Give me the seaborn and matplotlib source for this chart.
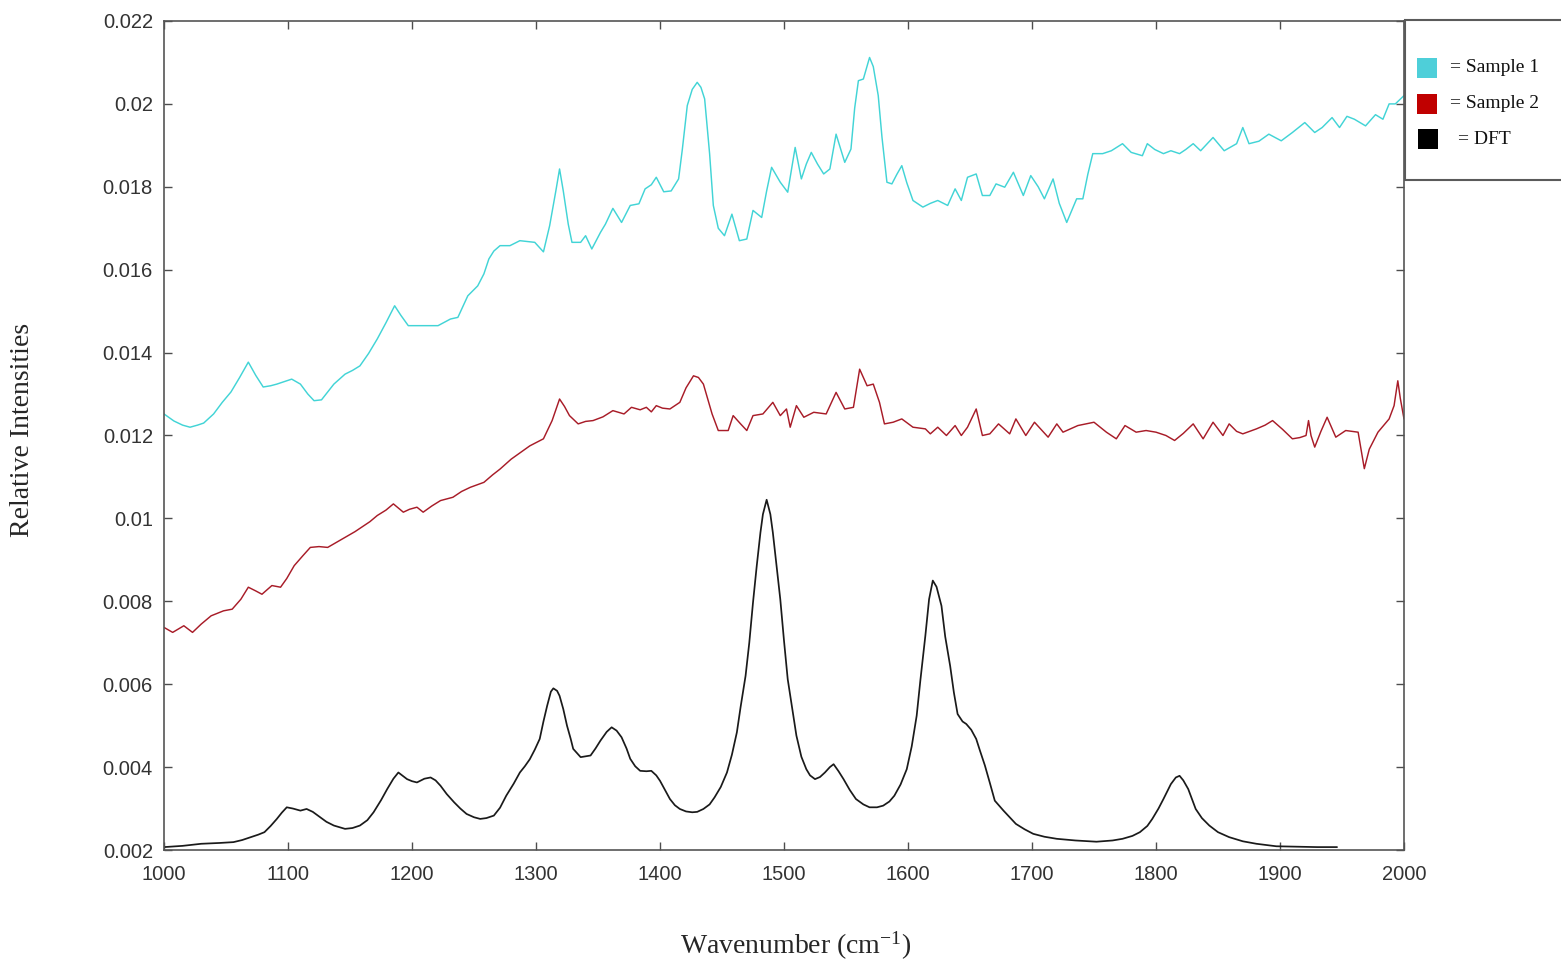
import numpy as np
import pandas as pd
import seaborn as sns
from matplotlib import pyplot as plt
from matplotlib.patches import Rectangle
from matplotlib.ticker import MultipleLocator, FuncFormatter

# series names, colours and legend text
series_names = ["Sample 1", "Sample 2", "DFT"]
series_colors = ["#42d4d6", "#a81c28", "#1a1a1a"]
series_widths = [1.05, 1.05, 1.25]
legend_labels = ["= Sample 1", "= Sample 2", "= DFT"]
legend_colors = ["#4ecfd9", "#c00000", "#000000"]

# (wavenumber in cm-1, relative intensity x 1e-3)
sample1 = [
    (1000, 12.52), (1008, 12.35), (1015, 12.25), (1021, 12.20), (1027, 12.25),
    (1032, 12.30), (1040, 12.52), (1047, 12.80), (1054, 13.05), (1061, 13.40),
    (1068, 13.77), (1074, 13.45), (1080, 13.17), (1086, 13.20), (1091, 13.24),
    (1097, 13.30), (1103, 13.36), (1110, 13.24), (1116, 13.00), (1121, 12.84),
    (1127, 12.86), (1132, 13.05), (1137, 13.24), (1146, 13.48), (1152, 13.57),
    (1158, 13.68), (1165, 13.98), (1172, 14.33), (1179, 14.72), (1186, 15.13),
    (1191, 14.90), (1197, 14.65), (1205, 14.65), (1213, 14.65), (1221, 14.65),
    (1231, 14.81), (1237, 14.85), (1245, 15.37), (1253, 15.61), (1258, 15.90),
    (1262, 16.26), (1266, 16.45), (1271, 16.58), (1279, 16.58), (1287, 16.70),
    (1293, 16.68), (1299, 16.66), (1306, 16.43), (1311, 17.06), (1316, 17.90),
    (1319, 18.43), (1322, 17.90), (1326, 17.10), (1329, 16.66), (1336, 16.66),
    (1340, 16.82), (1345, 16.50), (1352, 16.90), (1356, 17.10), (1362, 17.48),
    (1369, 17.14), (1376, 17.55), (1383, 17.59), (1388, 17.95), (1393, 18.05),
    (1397, 18.23), (1403, 17.88), (1409, 17.90), (1415, 18.19), (1418, 18.90),
    (1422, 19.96), (1426, 20.35), (1430, 20.52), (1433, 20.40), (1436, 20.12),
    (1440, 18.80), (1443, 17.55), (1447, 17.00), (1452, 16.82), (1458, 17.34),
    (1464, 16.70), (1470, 16.74), (1475, 17.43), (1482, 17.26), (1486, 17.90),
    (1490, 18.47), (1497, 18.11), (1503, 17.87), (1509, 18.95), (1514, 18.19),
    (1518, 18.55), (1522, 18.83), (1527, 18.55), (1532, 18.31), (1537, 18.43),
    (1542, 19.27), (1549, 18.59), (1554, 18.91), (1557, 19.90), (1560, 20.56),
    (1564, 20.60), (1569, 21.12), (1572, 20.90), (1576, 20.20), (1579, 19.20),
    (1583, 18.11), (1587, 18.07), (1591, 18.30), (1595, 18.51), (1599, 18.10),
    (1604, 17.67), (1612, 17.51), (1618, 17.60), (1624, 17.67), (1632, 17.55),
    (1638, 17.95), (1643, 17.67), (1648, 18.23), (1655, 18.31), (1660, 17.79),
    (1666, 17.79), (1671, 18.07), (1678, 17.99), (1685, 18.35), (1693, 17.79),
    (1699, 18.27), (1705, 18.00), (1710, 17.71), (1717, 18.19), (1722, 17.60),
    (1728, 17.14), (1736, 17.71), (1741, 17.71), (1745, 18.30), (1749, 18.80),
    (1757, 18.80), (1764, 18.87), (1773, 19.04), (1780, 18.83), (1789, 18.75),
    (1793, 19.04), (1799, 18.90), (1806, 18.80), (1812, 18.87), (1819, 18.80),
    (1824, 18.90), (1830, 19.04), (1836, 18.87), (1846, 19.19), (1855, 18.87),
    (1865, 19.04), (1870, 19.43), (1875, 19.04), (1883, 19.10), (1891, 19.27),
    (1901, 19.11), (1910, 19.31), (1920, 19.55), (1928, 19.31), (1934, 19.43),
    (1942, 19.67), (1948, 19.43), (1954, 19.70), (1960, 19.63), (1969, 19.47),
    (1977, 19.74), (1983, 19.63), (1988, 20.00), (1993, 20.00), (2000, 20.20),
]

sample2 = [
    (1000, 7.37), (1007, 7.25), (1016, 7.41), (1023, 7.25), (1030, 7.45),
    (1038, 7.65), (1048, 7.77), (1055, 7.81), (1062, 8.05), (1068, 8.34),
    (1074, 8.25), (1079, 8.17), (1087, 8.38), (1094, 8.34), (1099, 8.55),
    (1105, 8.86), (1112, 9.10), (1118, 9.30), (1125, 9.32), (1132, 9.30),
    (1139, 9.42), (1146, 9.54), (1154, 9.68), (1161, 9.82), (1166, 9.92),
    (1172, 10.07), (1179, 10.20), (1185, 10.35), (1193, 10.15), (1198, 10.22),
    (1204, 10.27), (1209, 10.15), (1216, 10.30), (1223, 10.43), (1233, 10.51),
    (1240, 10.65), (1247, 10.75), (1258, 10.87), (1265, 11.05), (1271, 11.19),
    (1280, 11.43), (1288, 11.60), (1295, 11.75), (1306, 11.92), (1313, 12.36),
    (1319, 12.88), (1323, 12.70), (1327, 12.48), (1334, 12.28), (1340, 12.34),
    (1346, 12.36), (1354, 12.45), (1362, 12.60), (1371, 12.52), (1377, 12.68),
    (1384, 12.62), (1389, 12.68), (1393, 12.57), (1397, 12.72), (1402, 12.66),
    (1408, 12.64), (1416, 12.80), (1421, 13.15), (1427, 13.44), (1431, 13.40),
    (1435, 13.24), (1442, 12.52), (1447, 12.12), (1455, 12.12), (1459, 12.48),
    (1465, 12.28), (1470, 12.12), (1475, 12.48), (1483, 12.52), (1491, 12.80),
    (1497, 12.48), (1502, 12.64), (1505, 12.20), (1510, 12.72), (1516, 12.44),
    (1524, 12.56), (1534, 12.52), (1542, 13.04), (1549, 12.64), (1556, 12.68),
    (1561, 13.60), (1567, 13.20), (1572, 13.24), (1577, 12.80), (1581, 12.28),
    (1588, 12.32), (1595, 12.40), (1604, 12.20), (1614, 12.16), (1618, 12.04),
    (1624, 12.20), (1631, 12.00), (1638, 12.24), (1643, 12.00), (1648, 12.20),
    (1655, 12.64), (1660, 12.00), (1666, 12.04), (1673, 12.28), (1682, 12.04),
    (1687, 12.40), (1695, 12.00), (1702, 12.32), (1713, 11.96), (1720, 12.28),
    (1725, 12.08), (1737, 12.24), (1750, 12.32), (1760, 12.08), (1768, 11.92),
    (1775, 12.24), (1784, 12.08), (1792, 12.12), (1800, 12.08), (1808, 12.00),
    (1815, 11.88), (1822, 12.05), (1830, 12.28), (1838, 11.92), (1846, 12.32),
    (1854, 12.00), (1859, 12.28), (1865, 12.10), (1870, 12.04), (1881, 12.16),
    (1888, 12.25), (1894, 12.36), (1902, 12.15), (1910, 11.92), (1916, 11.95),
    (1921, 12.00), (1923, 12.36), (1925, 12.00), (1928, 11.72), (1933, 12.10),
    (1938, 12.44), (1945, 11.96), (1953, 12.12), (1963, 12.08), (1968, 11.20),
    (1972, 11.67), (1979, 12.08), (1988, 12.40), (1992, 12.72), (1995, 13.32),
    (1997, 12.90), (2000, 12.40),
]

dft = [
    (1000, 2.07), (1015, 2.10), (1030, 2.15), (1045, 2.17), (1056, 2.19),
    (1063, 2.24), (1070, 2.31), (1076, 2.37), (1081, 2.43), (1086, 2.58),
    (1091, 2.75), (1095, 2.90), (1099, 3.03), (1104, 3.00), (1110, 2.95),
    (1115, 2.99), (1120, 2.92), (1126, 2.79), (1131, 2.68), (1137, 2.59),
    (1146, 2.51), (1152, 2.53), (1158, 2.59), (1164, 2.72), (1169, 2.91),
    (1175, 3.20), (1180, 3.47), (1185, 3.72), (1189, 3.87), (1192, 3.80),
    (1196, 3.71), (1200, 3.66), (1204, 3.63), (1210, 3.72), (1215, 3.75),
    (1219, 3.68), (1223, 3.55), (1228, 3.35), (1234, 3.15), (1239, 3.00),
    (1244, 2.87), (1250, 2.79), (1255, 2.75), (1260, 2.77), (1266, 2.83),
    (1271, 3.02), (1276, 3.31), (1282, 3.60), (1287, 3.87), (1291, 4.02),
    (1295, 4.19), (1299, 4.42), (1303, 4.68), (1306, 5.10), (1309, 5.48),
    (1312, 5.82), (1314, 5.90), (1317, 5.84), (1319, 5.72), (1322, 5.40),
    (1325, 5.00), (1328, 4.68), (1330, 4.44), (1336, 4.24), (1344, 4.28),
    (1348, 4.45), (1352, 4.64), (1357, 4.85), (1361, 4.96), (1365, 4.88),
    (1369, 4.72), (1373, 4.45), (1376, 4.20), (1380, 4.02), (1384, 3.91),
    (1389, 3.90), (1393, 3.91), (1397, 3.80), (1400, 3.67), (1404, 3.45),
    (1408, 3.23), (1412, 3.08), (1416, 2.99), (1421, 2.93), (1426, 2.91),
    (1430, 2.92), (1435, 2.99), (1440, 3.10), (1444, 3.27), (1449, 3.52),
    (1454, 3.87), (1458, 4.30), (1462, 4.84), (1465, 5.45), (1469, 6.20),
    (1472, 7.00), (1475, 7.97), (1478, 8.85), (1481, 9.66), (1483, 10.10),
    (1486, 10.45), (1489, 10.10), (1491, 9.66), (1494, 8.85), (1497, 8.05),
    (1500, 7.05), (1503, 6.12), (1507, 5.35), (1510, 4.76), (1514, 4.25),
    (1518, 3.95), (1521, 3.80), (1525, 3.71), (1529, 3.76), (1533, 3.87),
    (1537, 4.00), (1540, 4.07), (1544, 3.90), (1548, 3.71), (1553, 3.45),
    (1558, 3.23), (1564, 3.10), (1569, 3.03), (1575, 3.03), (1580, 3.07),
    (1585, 3.17), (1589, 3.31), (1594, 3.58), (1599, 3.95), (1603, 4.50),
    (1607, 5.24), (1610, 6.10), (1614, 7.17), (1617, 8.05), (1620, 8.50),
    (1623, 8.35), (1627, 7.89), (1630, 7.15), (1634, 6.44), (1637, 5.80),
    (1640, 5.28), (1644, 5.10), (1647, 5.04), (1651, 4.90), (1655, 4.68),
    (1658, 4.40), (1662, 4.04), (1666, 3.62), (1670, 3.19), (1677, 2.95),
    (1687, 2.63), (1694, 2.50), (1701, 2.39), (1710, 2.32), (1720, 2.27),
    (1735, 2.23), (1752, 2.20), (1765, 2.23), (1773, 2.27), (1781, 2.34),
    (1787, 2.43), (1793, 2.58), (1797, 2.75), (1802, 3.00), (1806, 3.23),
    (1812, 3.59), (1816, 3.75), (1819, 3.79), (1822, 3.68), (1826, 3.47),
    (1829, 3.23), (1832, 2.99), (1837, 2.77), (1843, 2.59), (1850, 2.43),
    (1859, 2.31), (1870, 2.21), (1881, 2.15), (1897, 2.09), (1915, 2.08),
    (1930, 2.07), (1946, 2.07),
]


def to_frame(points, name):
    df = pd.DataFrame(points, columns=["Wavenumber", "Intensity"])
    df["Intensity"] = df["Intensity"] * 1e-3
    df["Series"] = name
    return df


def px(x, y):
    # pixel position in the 1561x961 picture -> figure fraction
    return x / 1561.0, 1 - y / 961.0


def main():
    data = pd.concat([to_frame(p, n) for p, n in
                      zip([sample1, sample2, dft], series_names)])

    sns.set_style("ticks")
    plt.rcParams["font.family"] = ["Liberation Sans", "DejaVu Sans"]
    plt.rcParams["mathtext.fontset"] = "custom"
    plt.rcParams["mathtext.rm"] = "Liberation Serif"
    plt.rcParams["mathtext.it"] = "Liberation Serif:italic"

    fig = plt.figure(figsize=(15.61, 9.61), dpi=100)
    ax = fig.add_axes([164 / 1561, 111 / 961, 1240 / 1561, 829 / 961])

    for name, color, lw in zip(series_names, series_colors, series_widths):
        sns.lineplot(data=data[data["Series"] == name], x="Wavenumber",
                     y="Intensity", color=color, linewidth=lw,
                     estimator=None, legend=False, ax=ax)

    ax.set_xlim(1000, 2000)
    ax.set_ylim(0.002, 0.022)
    ax.xaxis.set_major_locator(MultipleLocator(100))
    ax.yaxis.set_major_locator(MultipleLocator(0.002))
    ax.yaxis.set_major_formatter(FuncFormatter(lambda v, p: "%g" % round(v, 4)))

    ax.tick_params(direction="in", top=True, right=True, length=5.5,
                   width=1, color="#4d4d4d", labelsize=14.5, labelcolor="#333333")
    ax.tick_params(axis="x", pad=11)
    ax.tick_params(axis="y", pad=8)
    for sp in ax.spines.values():
        sp.set_color("#555555")
        sp.set_linewidth(1.2)

    serif = ["Liberation Serif", "DejaVu Serif"]
    ax.set_xlabel("Wavenumber (cm$^{-1}$)", family=serif, fontsize=20, va="center")
    ax.xaxis.set_label_coords(0.509, -0.116)
    ax.set_ylabel("Relative Intensities", family=serif, fontsize=20, va="center")
    ax.yaxis.set_label_coords(-0.1145, 0.507)

    # legend box sitting outside the axes at the top right
    x0, y0 = px(1405, 180)
    x1, y1 = px(1575, 20)
    fig.add_artist(Rectangle((x0, y0), x1 - x0, y1 - y0, transform=fig.transFigure,
                             facecolor="white", edgecolor="#5a5a5a", linewidth=1.5))
    rows = [(1417, 58, 1450, 67), (1417, 94, 1450, 104), (1418, 129, 1458, 140)]
    for (sx, sy, tx, ty), label, color in zip(rows, legend_labels, legend_colors):
        bx, by = px(sx, sy + 20)
        fig.add_artist(Rectangle((bx, by), 20 / 1561, 20 / 961,
                                 transform=fig.transFigure, facecolor=color,
                                 edgecolor="none"))
        fx, fy = px(tx, ty)
        fig.text(fx, fy, label, family=serif, fontsize=14, ha="left",
                 va="center", color="#111111")

    fig.savefig("out.png", dpi=100)


if __name__ == "__main__":
    main()
